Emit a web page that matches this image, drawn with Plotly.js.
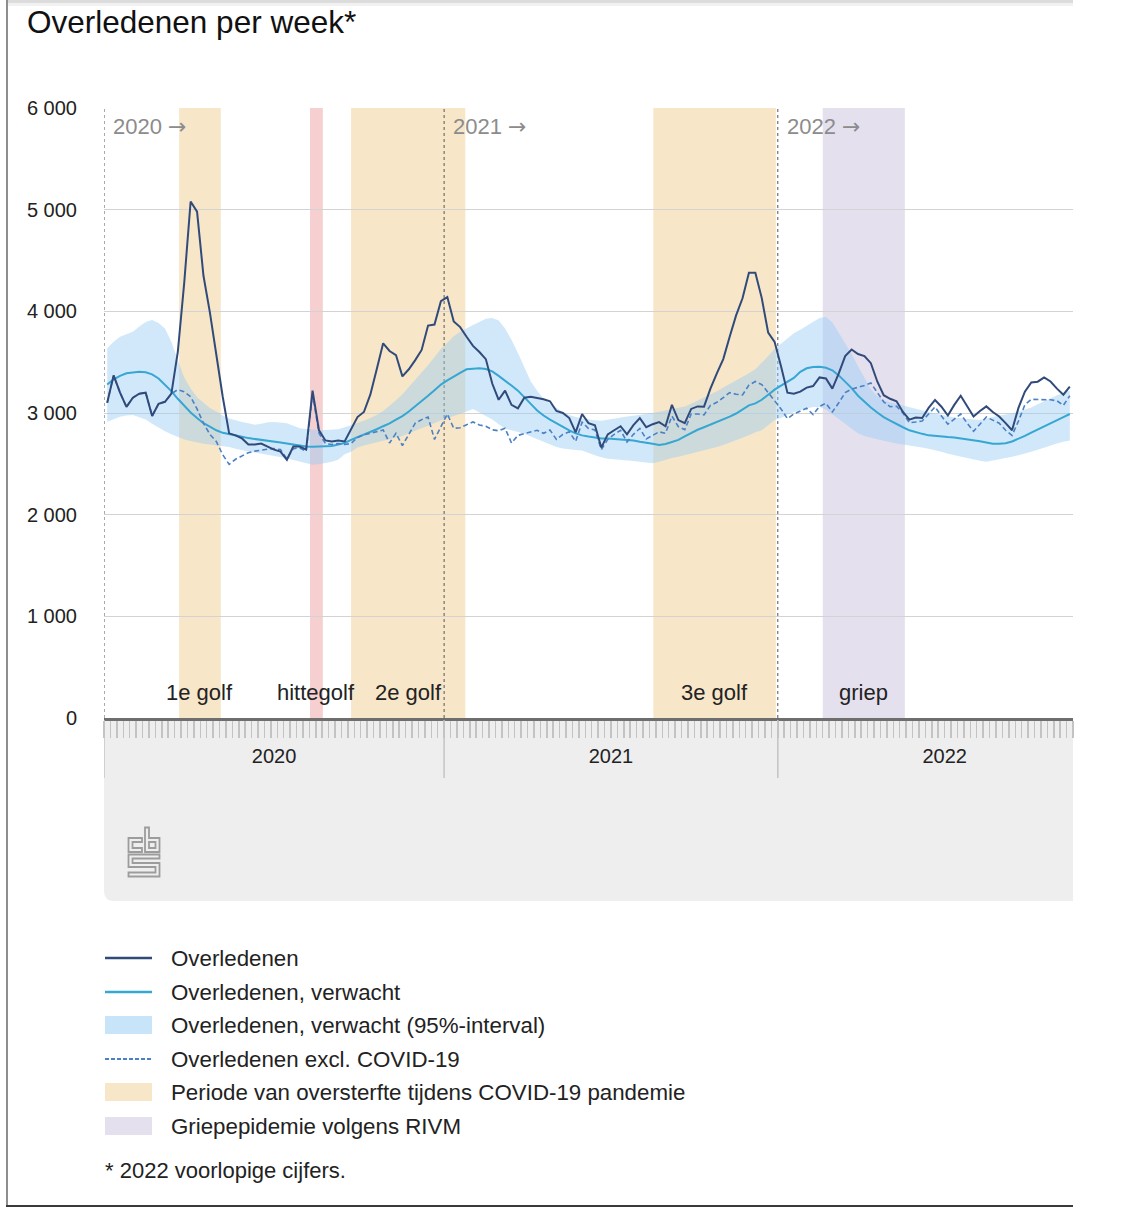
<!DOCTYPE html>
<html>
<head>
<meta charset="utf-8">
<script src="https://cdn.plot.ly/plotly-3.0.1.min.js"></script>
<style>
html,body{margin:0;padding:0;background:#fff;}
#chart{width:1128px;height:1220px;}
</style>
</head>
<body>
<div id="chart"></div>
<script>
// ---------- DATA ----------
const years = ['2020', '2021', '2022'];
const weeksPerYear = [53, 52, 52];

// Overledenen per week (2020 w1 .. 2022 w46)
const overleden = [
  3100,3370,3200,3060,3150,3190,3200,2970,3090,3110, 3190,3600,4280,5080,4980,4350,3990,3580,3160,2800,
  2780,2750,2690,2690,2700,2670,2640,2620,2540,2670, 2670,2640,3220,2830,2730,2720,2730,2720,2840,2960,
  3010,3180,3430,3685,3610,3570,3360,3430,3520,3620, 3860,3870,4100,
  4140,3900,3845,3750,3660,3600,3530,3290,3130,3220, 3080,3046,3150,3160,3150,3135,3115,3020,3000,2950,
  2810,2990,2900,2880,2660,2790,2830,2870,2790,2880, 2950,2860,2890,2910,2870,3080,2930,2900,3040,3065,
  3062,3240,3390,3530,3750,3960,4128,4380,4380,4130, 3790,3700,
  3460,3200,3190,3210,3250,3265,3350,3340,3240,3390, 3560,3625,3580,3560,3490,3310,3175,3140,3115,3010,
  2935,2955,2950,3050,3128,3062,2975,3080,3170,3060, 2965,3020,3065,3010,2965,2900,2830,3050,3210,3300,
  3308,3350,3310,3240,3180,3260
];

// Overledenen, verwacht
const verwacht = [
  3280,3330,3365,3390,3398,3405,3400,3380,3340,3280, 3215,3140,3070,3005,2950,2900,2865,2830,2805,2790,
  2778,2766,2753,2745,2738,2733,2722,2710,2700,2690, 2678,2670,2669,2669,2669,2675,2690,2705,2735,2760,
  2790,2815,2840,2870,2898,2935,2970,3015,3065,3115, 3170,3225,3280,
  3320,3360,3395,3430,3438,3440,3432,3410,3365,3320, 3270,3220,3150,3090,3025,2975,2935,2900,2860,2830,
  2800,2780,2768,2758,2750,2748,2745,2743,2740,2730, 2718,2710,2698,2686,2695,2715,2735,2770,2805,2835,
  2860,2885,2915,2940,2965,2995,3035,3075,3095,3130, 3180,3230,
  3270,3310,3345,3405,3440,3452,3455,3445,3420,3370, 3310,3245,3170,3110,3055,3005,2960,2925,2890,2860,
  2830,2810,2795,2780,2772,2768,2763,2760,2752,2744, 2734,2722,2710,2697,2698,2702,2720,2745,2775,2808,
  2840,2870,2900,2935,2960,2990
];

// 95%-interval, upper bound
const verwachtHoog = [
  3636,3700,3750,3775,3800,3850,3895,3915,3885,3830, 3700,3520,3350,3240,3155,3100,3050,3015,2975,2945,
  2925,2912,2898,2885,2895,2908,2912,2905,2898,2875, 2850,2842,2836,2833,2833,2833,2840,2860,2880,2900,
  2925,2950,2980,3020,3070,3125,3185,3255,3325,3395, 3470,3550,3630,
  3690,3755,3800,3835,3865,3895,3928,3935,3910,3830, 3720,3590,3450,3310,3220,3140,3090,3050,3010,2980,
  2960,2948,2935,2928,2925,2935,2950,2962,2965,2972, 2980,2990,3000,3012,3025,3035,3045,3065,3090,3120,
  3150,3185,3215,3250,3285,3320,3350,3390,3430,3490, 3560,3630,
  3680,3735,3785,3820,3860,3900,3935,3945,3890,3790, 3690,3580,3460,3340,3230,3165,3125,3105,3088,3072,
  3055,3040,3025,3010,2995,2980,2965,2955,2948,2940, 2935,2931,2945,2962,2975,2985,2995,3015,3035,3055,
  3085,3115,3150,3175,3200,3220
];

// 95%-interval, lower bound
const verwachtLaag = [
  2914,2940,2964,2975,2980,2958,2935,2895,2855,2820, 2790,2765,2740,2725,2708,2698,2690,2682,2674,2665,
  2648,2632,2622,2611,2601,2590,2580,2568,2555,2538, 2521,2505,2490,2495,2505,2520,2540,2595,2620,2660,
  2680,2695,2710,2725,2740,2755,2775,2800,2825,2852, 2880,2905,2932,
  2950,2970,2990,3015,3040,3005,2965,2935,2890,2845, 2830,2815,2795,2770,2745,2720,2690,2665,2650,2640,
  2635,2630,2605,2585,2565,2550,2545,2537,2532,2528, 2521,2512,2505,2520,2540,2557,2570,2585,2600,2613,
  2628,2645,2665,2685,2708,2730,2755,2780,2810,2830, 2880,2930,
  2950,2985,3010,3030,3045,3058,3058,3035,2990,2940, 2895,2845,2800,2775,2755,2742,2728,2712,2700,2690,
  2682,2672,2660,2648,2635,2618,2598,2585,2570,2552, 2540,2530,2521,2532,2543,2554,2570,2585,2600,2618,
  2638,2660,2682,2700,2718,2730
];

// Overledenen excl. COVID-19
const exclCovid = [
  3100,3370,3200,3060,3150,3190,3200,2970,3090,3110, 3190,3230,3210,3160,3040,2900,2790,2720,2590,2495,
  2545,2580,2610,2625,2638,2645,2650,2640,2550,2650, 2655,2625,3190,2800,2700,2690,2700,2690,2700,2760,
  2785,2800,2816,2833,2705,2800,2680,2790,2900,2935, 2960,2740,2870,
  2990,2850,2855,2885,2912,2882,2870,2835,2825,2850, 2705,2780,2795,2810,2830,2800,2833,2740,2790,2815,
  2720,2910,2848,2833,2640,2740,2790,2830,2715,2790, 2848,2745,2780,2815,2800,2970,2865,2835,2990,2990,
  2982,3075,3105,3150,3200,3185,3177,3275,3310,3280, 3194,3120,
  3040,2945,2990,3020,3046,2985,3065,3095,3010,3100, 3200,3235,3250,3270,3295,3200,3110,3062,3066,3000,
  2905,2912,2922,2990,3060,2970,2890,2940,2990,2900, 2820,2890,2960,2930,2900,2830,2780,2920,3080,3134,
  3134,3134,3130,3120,3075,3170
];

// Marked periods (in weeks counted from the start of 2020)
const periodNames = ['1e golf', 'hittegolf', '2e golf', '3e golf', 'griep'];
const periodStart = [11.7, 32.1, 38.5, 85.6, 112.0];
const periodEnd   = [18.2, 34.1, 56.3, 104.7, 124.8];
const periodKind  = ['covid', 'heat', 'covid', 'covid', 'flu'];

const legendLabels = [
  'Overledenen',
  'Overledenen, verwacht',
  'Overledenen, verwacht (95%-interval)',
  'Overledenen excl. COVID-19',
  'Periode van oversterfte tijdens COVID-19 pandemie',
  'Griepepidemie volgens RIVM'
];
const footnote = '* 2022 voorlopige cijfers.';
const titleText = 'Overledenen per week*';

// ---------- STYLE / LAYOUT ----------
const C = {
  dark: '#304b7a', cyan: '#36a6d2', dashed: '#4c80c4',
  band: 'rgba(150,205,245,0.45)', bandLegend: '#c8e4f9',
  covid: '#f8e6c9', heat: '#f6cfd1', flu: '#e5e0ee',
  grid: '#d3d3d3', text: '#222222', year: '#8c8c8c', area: '#eeeeee'
};
const FONT = '"Liberation Sans", Arial, Helvetica, sans-serif';
const W = 1128, H = 1220, ML = 104, MR = 55, MT = 108, MB = 502;
const PW = W - ML - MR, PH = H - MT - MB;
const px2x = px => (px - ML) / PW;
const py2y = py => (MT + PH - py) / PH;

const xs = overleden.map((_, i) => i + 0.5);
const yearStart = [];
weeksPerYear.reduce((acc, n) => { yearStart.push(acc); return acc + n; }, 0);
const yearCenter = yearStart.map((s, i) => s + weeksPerYear[i] / 2);
const nWeeks = overleden.length;

const traces = [
  {x: xs, y: verwachtLaag, mode: 'lines', line: {width: 0, color: C.band}, hoverinfo: 'skip', showlegend: false},
  {x: xs, y: verwachtHoog, mode: 'lines', line: {width: 0, color: C.band}, fill: 'tonexty', fillcolor: C.band,
   name: legendLabels[2], hoverinfo: 'skip', showlegend: false},
  {x: xs, y: verwacht, mode: 'lines', line: {color: C.cyan, width: 2}, name: legendLabels[1], showlegend: false},
  {x: xs, y: exclCovid, mode: 'lines', line: {color: C.dashed, width: 1.6, dash: '5px,3px'}, name: legendLabels[3], showlegend: false},
  {x: xs, y: overleden, mode: 'lines', line: {color: C.dark, width: 2}, name: legendLabels[0], showlegend: false}
];

const shapes = [];
const annotations = [];

// grey axis panel under the plot
const gx0 = px2x(104), gx1 = px2x(1073), gy0 = py2y(718), gy1 = py2y(901);
const rx = 10 / PW, ry = 10 / PH;
shapes.push({type: 'path', xref: 'paper', yref: 'paper', layer: 'below', fillcolor: C.area, line: {width: 0},
  path: `M ${gx0} ${gy0} L ${gx1} ${gy0} L ${gx1} ${gy1} L ${gx0 + rx} ${gy1} Q ${gx0} ${gy1} ${gx0} ${gy1 + ry} Z`});

// period bands + labels
const kindColor = {covid: C.covid, heat: C.heat, flu: C.flu};
periodNames.forEach((name, i) => {
  shapes.push({type: 'rect', xref: 'x', yref: 'paper', x0: periodStart[i], x1: periodEnd[i], y0: 0, y1: 1,
    fillcolor: kindColor[periodKind[i]], line: {width: 0}, layer: 'below'});
  annotations.push({xref: 'x', yref: 'paper', x: (periodStart[i] + periodEnd[i]) / 2, y: py2y(692),
    text: name, showarrow: false, xanchor: 'center', yanchor: 'middle',
    font: {family: FONT, size: 22, color: C.text}});
});

// year dividers and year labels
yearStart.forEach((s, i) => {
  shapes.push({type: 'line', xref: 'x', yref: 'paper', x0: s, x1: s, y0: 0, y1: 1,
    line: {color: '#555', width: 1, dash: '3px,3px'}, layer: 'between'});
  shapes.push({type: 'line', xref: 'x', yref: 'paper', x0: s, x1: s, y0: py2y(720), y1: py2y(778),
    line: {color: '#c4c4c4', width: 1.5}, layer: 'above'});
  annotations.push({xref: 'x', yref: 'paper', x: s, xshift: 7, y: py2y(127),
    text: years[i] + ' <span style="font-family:\'DejaVu Sans\'">\u2192</span>',
    showarrow: false, xanchor: 'left', yanchor: 'middle', font: {family: FONT, size: 22, color: C.year}});
});

// manual legend
const legRowY = [958, 992, 1025, 1059, 1092, 1126];
const symX0 = px2x(105), symX1 = px2x(152);
const legSymbols = [
  {kind: 'line', color: C.dark, width: 2.5},
  {kind: 'line', color: C.cyan, width: 2.5},
  {kind: 'box', color: C.bandLegend},
  {kind: 'line', color: C.dashed, width: 2, dash: '4px,2px'},
  {kind: 'box', color: C.covid},
  {kind: 'box', color: C.flu}
];
legSymbols.forEach((s, i) => {
  const cy = legRowY[i];
  if (s.kind === 'line') {
    shapes.push({type: 'line', xref: 'paper', yref: 'paper', x0: symX0, x1: symX1, y0: py2y(cy), y1: py2y(cy),
      line: {color: s.color, width: s.width, dash: s.dash || 'solid'}});
  } else {
    shapes.push({type: 'rect', xref: 'paper', yref: 'paper', x0: symX0, x1: symX1, y0: py2y(cy - 9), y1: py2y(cy + 9),
      fillcolor: s.color, line: {width: 0}});
  }
  annotations.push({xref: 'paper', yref: 'paper', x: px2x(169), y: py2y(cy), text: legendLabels[i],
    showarrow: false, xanchor: 'left', yanchor: 'middle', font: {family: FONT, size: 22.3, color: C.text}});
});
annotations.push({xref: 'paper', yref: 'paper', x: px2x(103), y: py2y(1170), text: footnote,
  showarrow: false, xanchor: 'left', yanchor: 'middle', font: {family: FONT, size: 22, color: C.text}});

// page frame
shapes.push({type: 'line', xref: 'paper', yref: 'paper', x0: px2x(7), x1: px2x(7), y0: py2y(0), y1: py2y(1206),
  line: {color: '#8e8e8e', width: 2}});
shapes.push({type: 'line', xref: 'paper', yref: 'paper', x0: px2x(6), x1: px2x(1073), y0: py2y(1206), y1: py2y(1206),
  line: {color: '#3a3a3a', width: 2}});
shapes.push({type: 'line', xref: 'paper', yref: 'paper', x0: px2x(8), x1: px2x(1073), y0: py2y(1.5), y1: py2y(1.5),
  line: {color: '#dcdcdc', width: 3}});
shapes.push({type: 'line', xref: 'paper', yref: 'paper', x0: px2x(8), x1: px2x(1073), y0: py2y(4.5), y1: py2y(4.5),
  line: {color: '#f1f1f1', width: 3}});

// CBS logo (outline drawing)
const logoSvg = '<svg xmlns="http://www.w3.org/2000/svg" viewBox="0 0 34 52" width="34" height="52">' +
  '<g fill="none" stroke="#9c9c9c" stroke-width="1.8" stroke-linejoin="miter">' +
  '<path d="M15 12 H1.5 V26 H15 V22 H5.5 V16 H15 Z"/>' +
  '<path d="M18 1.5 H22 V12 H32.5 V26 H18 Z M22 16 H28.5 V22 H22 Z"/>' +
  '<path d="M1.5 28.5 H32.5 V32.5 H5.5 V37 H32.5 V50.5 H1.5 V46.5 H28.5 V41 H1.5 Z"/>' +
  '</g></svg>';
const images = [{source: 'data:image/svg+xml;base64,' + btoa(logoSvg), xref: 'paper', yref: 'paper',
  x: px2x(127), y: py2y(826), sizex: 34 / PW, sizey: 52 / PH, xanchor: 'left', yanchor: 'top',
  sizing: 'stretch', layer: 'above'}];

const layout = {
  width: W, height: H,
  margin: {l: ML, r: MR, t: MT, b: MB, pad: 0},
  paper_bgcolor: '#ffffff', plot_bgcolor: '#ffffff',
  separators: ', ',
  font: {family: FONT, size: 20, color: C.text},
  title: {text: titleText, x: 27 / W, xref: 'container', xanchor: 'left', y: 1 - 22 / H, yref: 'container',
    yanchor: 'middle', font: {family: FONT, size: 31.5, color: '#111'}},
  showlegend: false,
  xaxis: {range: [0, nWeeks], showgrid: false, zeroline: false, showline: true, linecolor: '#6e6e6e', linewidth: 3,
    ticks: '', tickmode: 'array', tickvals: yearCenter, ticktext: years, ticklabelstandoff: 18,
    tickfont: {family: FONT, size: 20, color: C.text},
    minor: {ticks: 'outside', tickmode: 'linear', tick0: 0, dtick: 1, ticklen: 17, tickwidth: 1.5, tickcolor: '#c3c3c3', showgrid: false},
    fixedrange: true},
  yaxis: {range: [0, 6000], tickmode: 'array', tickvals: [0, 1000, 2000, 3000, 4000, 5000, 6000], tickformat: ',d',
    showgrid: true, gridcolor: C.grid, gridwidth: 1, zeroline: false, showline: false, ticks: '',
    ticklabelstandoff: 26, tickfont: {family: FONT, size: 20, color: C.text}, fixedrange: true},
  shapes: shapes, annotations: annotations, images: images
};

Plotly.newPlot('chart', traces, layout, {displayModeBar: false, staticPlot: true});
</script>
</body>
</html>
